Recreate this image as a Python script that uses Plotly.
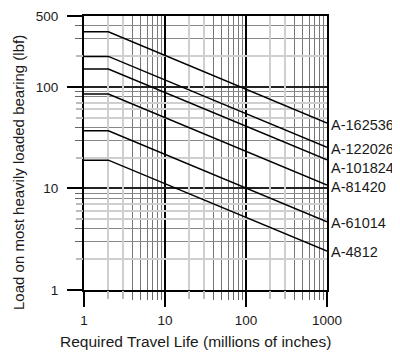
import math
import plotly.graph_objects as go

# ---- data ----
models = ["A-162536", "A-122026", "A-101824", "A-81420", "A-61014", "A-4812"]
travel_life = [1, 2, 1000]                 # millions of inches (knee at 2)
load_flat = [350, 200, 150, 85, 37, 19]     # lbf for life <= 2
load_end = [44, 25.5, 19.2, 10.8, 4.7, 2.42]  # lbf at 1000

x_major = [1, 10, 100, 1000]
x_major_text = ["1", "10", "100", "1000"]
y_major = [1, 10, 100, 500]
y_major_text = ["1", "10", "100", "500"]

# label vertical nudges (style only)
label_yshift = [-2, -2, -8, -2, -1, -1]

FONT = "Liberation Sans, Arial, sans-serif"
TXT = "#1a1a1a"

# page body has an 8px default margin; the figure is sized/offset to compensate
W, H, OFF = 392, 345, 8
PL, PT, PW, PH = 84 - OFF, 16 - OFF, 243, 274

decades = [1, 10, 100]
x_dark = [d * m for d in decades for m in (4, 5, 6, 7, 8, 9)]
x_light = [d * m for d in decades for m in (2, 3)]
y_dark = [d * m for d in decades for m in (3, 4, 8, 9) if d * m < 500]
y_light = [d * m for d in decades for m in (2, 5, 6, 7) if d * m < 500]

fig = go.Figure()

for name, f0, f1 in zip(models, load_flat, load_end):
    fig.add_trace(go.Scatter(
        x=travel_life, y=[f0, f0, f1], mode="lines", name=name,
        line=dict(color="black", width=1.5), showlegend=False, hoverinfo="skip"))

# empty trace so the overlay axes (light grid) exist
fig.add_trace(go.Scatter(x=[], y=[], xaxis="x2", yaxis="y2", showlegend=False))

for name, f1, ys in zip(models, load_end, label_yshift):
    fig.add_annotation(x=math.log10(travel_life[-1]), y=math.log10(f1), xref="x", yref="y",
                       text=name, showarrow=False,
                       xanchor="left", yanchor="middle", xshift=2, yshift=ys,
                       font=dict(family=FONT, size=14.5, color=TXT))

fig.add_annotation(x=(195.5 - 84) / PW, y=(290 - 341.5) / PH, xref="paper", yref="paper",
                   text="Required Travel Life (millions of inches)", showarrow=False,
                   xanchor="center", yanchor="middle",
                   font=dict(family=FONT, size=15.5, color=TXT))
fig.add_annotation(x=(18 - 84) / PW, y=(290 - 173) / PH, xref="paper", yref="paper",
                   text="Load on most heavily loaded bearing (lbf)", showarrow=False,
                   textangle=-90, xanchor="center", yanchor="middle",
                   font=dict(family=FONT, size=15, color=TXT))

fig.update_layout(
    width=W, height=H,
    margin=dict(l=PL, r=W - PL - PW, t=PT, b=H - PT - PH, autoexpand=False),
    paper_bgcolor="white", plot_bgcolor="white",
    font=dict(family=FONT, size=13, color=TXT),
    xaxis=dict(type="log", range=[0, 3], tickmode="array", tickvals=x_major, ticktext=x_major_text,
               ticks="outside", ticklen=15, tickwidth=2, tickcolor="black",
               showline=True, linecolor="black", linewidth=2, mirror=True,
               showgrid=True, gridcolor="black", gridwidth=1.5, zeroline=False,
               tickfont=dict(size=13.5), automargin=False, ticklabelstandoff=2,
               minor=dict(tickmode="array", tickvals=x_dark, ticks="outside", ticklen=8,
                          tickcolor="#666", tickwidth=1, showgrid=True,
                          gridcolor="#777", gridwidth=1)),
    yaxis=dict(type="log", range=[0, math.log10(500)], tickmode="array", tickvals=y_major,
               ticktext=y_major_text,
               ticks="outside", ticklen=15, tickwidth=2, tickcolor="black",
               showline=True, linecolor="black", linewidth=2, mirror=True,
               showgrid=True, gridcolor="#222", gridwidth=1.5, zeroline=False,
               tickfont=dict(size=13.5), automargin=False, ticklabelstandoff=6,
               minor=dict(tickmode="array", tickvals=y_dark, ticks="outside", ticklen=7,
                          tickcolor="#666", tickwidth=1, showgrid=True,
                          gridcolor="#888", gridwidth=1)),
    xaxis2=dict(type="log", range=[0, 3], overlaying="x", anchor="y", side="bottom",
                tickmode="array", tickvals=x_light, showticklabels=False,
                ticks="outside", ticklen=8, tickwidth=2, tickcolor="#bbb",
                showgrid=True, gridcolor="#cfcfcf", gridwidth=2, showline=False, zeroline=False,
                automargin=False),
    yaxis2=dict(type="log", range=[0, math.log10(500)], overlaying="y", anchor="x", side="left",
                tickmode="array", tickvals=y_light, showticklabels=False,
                ticks="outside", ticklen=7, tickwidth=2, tickcolor="#bbb",
                showgrid=True, gridcolor="#cfcfcf", gridwidth=2, showline=False, zeroline=False,
                automargin=False),
)

fig.write_html("out.html")
